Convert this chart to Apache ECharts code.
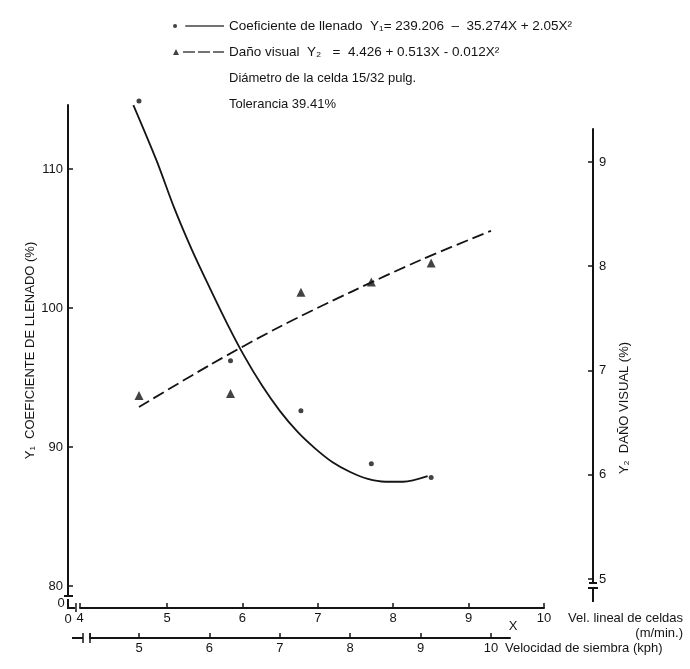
<!DOCTYPE html>
<html><head><meta charset="utf-8">
<script src="https://cdn.jsdelivr.net/npm/echarts@6/dist/echarts.min.js"></script>
<style>html,body{margin:0;padding:0;background:#fff}#c{width:690px;height:669px}</style>
</head><body><div id="c"></div>
<script>
// ---- data ----
const kphX    = [5.0, 6.3, 7.3, 8.3, 9.15];          // Velocidad de siembra (kph)
const coefY1  = [114.9, 96.2, 92.6, 88.8, 87.8];      // Coeficiente de llenado (%)
const danoY2  = [6.76, 6.78, 7.75, 7.85, 8.03];       // Daño visual (%)
const curveX1 = [4.92, 5.25, 5.5, 5.75, 6.0, 6.25, 6.5, 6.75, 7.0, 7.25, 7.5, 7.75, 8.0, 8.25, 8.5, 8.75, 9.1];
const curveY1 = [114.6, 110.6, 107.2, 104.2, 101.5, 98.9, 96.5, 94.4, 92.6, 91.1, 89.9, 88.9, 88.2, 87.7, 87.5, 87.5, 87.9];
const curveX2 = [5, 6, 7, 8, 9, 10];
const curveY2 = [6.65, 7.05, 7.42, 7.75, 8.06, 8.34];
const y1Ticks  = [80, 90, 100, 110];
const y2Ticks  = [5, 6, 7, 8, 9];
const velTicks = [5, 6, 7, 8, 9, 10];
const kphTicks = [5, 6, 7, 8, 9, 10];
const seriesNames = [
  'Coeficiente de llenado  Y\u2081= 239.206  \u2013  35.274X + 2.05X\u00B2',
  'Da\u00F1o visual  Y\u2082   =  4.426 + 0.513X - 0.012X\u00B2'
];
const noteLines = ['Di\u00E1metro de la celda 15/32 pulg.', 'Tolerancia 39.41%'];

// ---- drawing ----
const FONT = '"Liberation Sans", Arial, sans-serif';
const INK = '#141414';
const lineSt = {color: INK, width: 2};
const zip = (a, b) => a.map((v, i) => [v, b[i]]);
const VEL_MIN = 3.8462;

const chart = echarts.init(document.getElementById('c'), null, {renderer: 'canvas'});
const option = {
  animation: false,
  backgroundColor: '#ffffff',
  textStyle: {fontFamily: FONT, color: INK},
  title: {
    text: noteLines.join('\n'),
    left: 224, top: 60,
    textStyle: {fontFamily: FONT, fontSize: 13, fontWeight: 'normal', color: INK, lineHeight: 26}
  },
  legend: {
    orient: 'vertical', left: 168, top: 14,
    itemWidth: 51, itemHeight: 8, itemGap: 12,
    selectedMode: false,
    textStyle: {fontFamily: FONT, fontSize: 13.5, color: INK},
    data: [
      {name: seriesNames[0], icon: 'path://M1,4a2,2 0 1,0 4,0a2,2 0 1,0 -4,0Z M13,3.2H51V4.8H13Z'},
      {name: seriesNames[1], icon: 'path://M0,7L3,1L6,7Z M10,3.2H22V4.8H10Z M25,3.2H37V4.8H25Z M40,3.2H51V4.8H40Z'}
    ]
  },
  grid: [
    {left: 68, right: 97, top: 105, bottom: 73},
    {left: 68, right: 97, top: 129, bottom: 86},
    {left: 80, right: 146, top: 598, bottom: 61},
    {left: 90, right: 180, top: 628, bottom: 31}
  ],
  xAxis: [
    {gridIndex: 0, type: 'value', min: 3.9915, max: 11.4489, show: false},
    {gridIndex: 1, type: 'value', min: 0, max: 1, show: false},
    {gridIndex: 2, type: 'value', min: VEL_MIN, max: 10, position: 'bottom',
     axisLine: {show: true, onZero: false, lineStyle: lineSt},
     axisTick: {show: true, inside: true, length: 5, customValues: [VEL_MIN].concat(velTicks), lineStyle: {color: INK, width: 1.5}},
     axisLabel: {customValues: [VEL_MIN].concat(velTicks), formatter: v => String(Math.round(v)), margin: 4, fontSize: 13, color: INK, fontFamily: FONT},
     splitLine: {show: false},
     name: 'Vel. lineal de celdas\n(m/min.)', nameLocation: 'end', nameGap: 139, nameMoveOverlap: false,
     nameTextStyle: {align: 'right', verticalAlign: 'top', fontSize: 13, lineHeight: 15, color: INK, fontFamily: FONT, padding: [3, 0, 0, 0]}},
    {gridIndex: 3, type: 'value', min: 4.304, max: 10.27, position: 'bottom',
     axisLine: {show: true, onZero: false, lineStyle: lineSt},
     axisTick: {show: true, inside: true, length: 5, customValues: [4.304].concat(kphTicks), lineStyle: {color: INK, width: 1.5}},
     axisLabel: {customValues: kphTicks, margin: 4, fontSize: 13, color: INK, fontFamily: FONT},
     splitLine: {show: false},
     name: 'Velocidad de siembra (kph)', nameLocation: 'end', nameGap: -5, nameMoveOverlap: false,
     nameTextStyle: {align: 'left', verticalAlign: 'top', fontSize: 13, color: INK, fontFamily: FONT, padding: [4, 0, 0, 0]}}
  ],
  yAxis: [
    {gridIndex: 0, type: 'value', min: 79.281, max: 114.604, position: 'left',
     axisLine: {show: true, onZero: false, lineStyle: lineSt},
     axisTick: {show: true, inside: true, length: 5, customValues: y1Ticks, lineStyle: {color: INK, width: 1.5}},
     axisLabel: {customValues: y1Ticks, margin: 5, fontSize: 13, color: INK, fontFamily: FONT},
     splitLine: {show: false},
     name: 'Y\u2081  COEFICIENTE DE LLENADO (%)', nameLocation: 'middle', nameGap: 31, nameMoveOverlap: false,
     nameTextStyle: {fontSize: 13, color: INK, fontFamily: FONT}},
    {gridIndex: 0, type: 'value', min: 4.8369, max: 9.5468, show: false},
    {gridIndex: 1, type: 'value', min: 4.9616, max: 9.3165, position: 'right',
     axisLine: {show: true, onZero: false, lineStyle: lineSt},
     axisTick: {show: true, inside: true, length: 5, customValues: y2Ticks, lineStyle: {color: INK, width: 1.5}},
     axisLabel: {customValues: y2Ticks, margin: 6, fontSize: 13, color: INK, fontFamily: FONT},
     splitLine: {show: false}},
    {gridIndex: 2, type: 'value', show: false},
    {gridIndex: 3, type: 'value', show: false}
  ],
  series: [
    {name: seriesNames[0], type: 'scatter', xAxisIndex: 0, yAxisIndex: 0, clip: false,
     data: zip(kphX, coefY1), symbol: 'circle', symbolSize: 5, itemStyle: {color: INK}, z: 5},
    {name: seriesNames[1], type: 'scatter', xAxisIndex: 0, yAxisIndex: 1, clip: false,
     data: zip(kphX, danoY2), symbol: 'triangle', symbolSize: 9, itemStyle: {color: INK}, z: 5},
    {name: seriesNames[0], type: 'line', xAxisIndex: 0, yAxisIndex: 0, clip: false,
     data: zip(curveX1, curveY1), smooth: 0.3, showSymbol: false,
     itemStyle: {color: INK}, lineStyle: {color: INK, width: 1.8}},
    {name: seriesNames[1], type: 'line', xAxisIndex: 0, yAxisIndex: 1,
     data: zip(curveX2, curveY2), smooth: 0.3, showSymbol: false,
     itemStyle: {color: INK}, lineStyle: {color: INK, width: 1.8, type: [12, 5]}}
  ],
  graphic: [
    {type: 'text', x: 624, y: 408, rotation: Math.PI / 2,
     style: {text: 'Y\u2082  DA\u00D1O VISUAL (%)', fill: INK, font: '13px ' + FONT, align: 'center', verticalAlign: 'middle'}},
    {type: 'text', x: 513, y: 626, style: {text: 'X', fill: INK, font: '13px ' + FONT, align: 'center', verticalAlign: 'middle'}},
    {type: 'text', x: 61, y: 603, style: {text: '0', fill: INK, font: '13px ' + FONT, align: 'center', verticalAlign: 'middle'}},
    {type: 'text', x: 68, y: 619, style: {text: '0', fill: INK, font: '13px ' + FONT, align: 'center', verticalAlign: 'middle'}},
    {type: 'line', shape: {x1: 64, y1: 596, x2: 73, y2: 596}, style: {stroke: INK, lineWidth: 2}},
    {type: 'line', shape: {x1: 68, y1: 599, x2: 68, y2: 608}, style: {stroke: INK, lineWidth: 2}},
    {type: 'line', shape: {x1: 67, y1: 608, x2: 75, y2: 608}, style: {stroke: INK, lineWidth: 2}},
    {type: 'line', shape: {x1: 76, y1: 603, x2: 76, y2: 612}, style: {stroke: INK, lineWidth: 1.5}},
    {type: 'line', shape: {x1: 72, y1: 638, x2: 83, y2: 638}, style: {stroke: INK, lineWidth: 2}},
    {type: 'line', shape: {x1: 83, y1: 633, x2: 83, y2: 643}, style: {stroke: INK, lineWidth: 1.5}},
    {type: 'line', shape: {x1: 90, y1: 633, x2: 90, y2: 643}, style: {stroke: INK, lineWidth: 1.5}},
    {type: 'line', shape: {x1: 589, y1: 583, x2: 597, y2: 583}, style: {stroke: INK, lineWidth: 2}},
    {type: 'line', shape: {x1: 588, y1: 588, x2: 598, y2: 588}, style: {stroke: INK, lineWidth: 2}},
    {type: 'line', shape: {x1: 593, y1: 588, x2: 593, y2: 602}, style: {stroke: INK, lineWidth: 2}}
  ]
};
chart.setOption(option);
</script>
</body></html>
